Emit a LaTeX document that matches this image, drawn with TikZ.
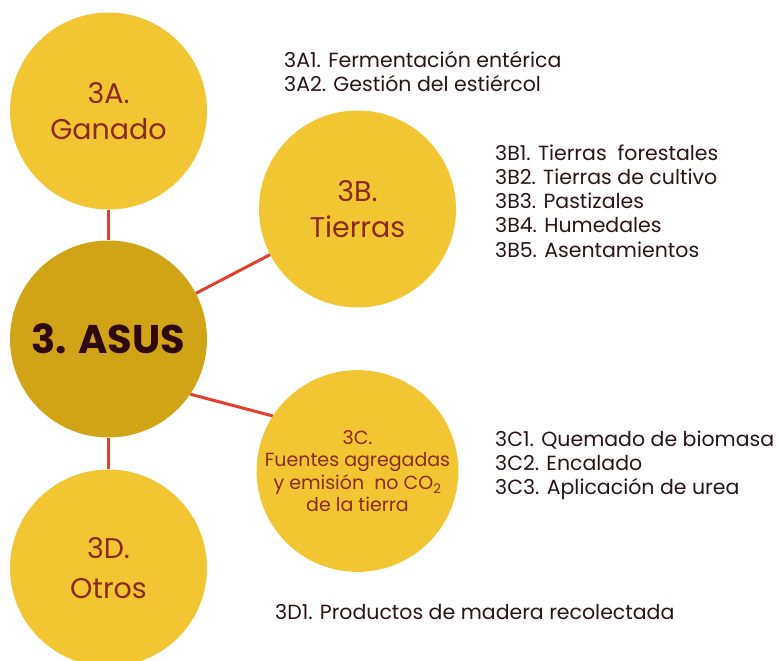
\documentclass[tikz,border=0pt]{standalone}
\usepackage{fontspec}
\setmainfont{Poppins}
\usepackage{xcolor}
\definecolor{circlegold}{HTML}{F2C633}
\definecolor{hubgold}{HTML}{D1A316}
\definecolor{labelred}{HTML}{8C2A1A}
\definecolor{hubtext}{HTML}{2E080A}
\definecolor{listtext}{HTML}{2B1414}
\definecolor{linkred}{HTML}{E0402E}

\begin{document}
\begin{tikzpicture}[x=1pt,y=-1pt]
\tikzset{topic/.style={circle,fill=circlegold,minimum size=197pt,inner sep=0pt,text=labelred,align=center,font=\fontsize{28.5}{36}\selectfont}}
\tikzset{hub/.style={topic,fill=hubgold,text=hubtext,font=\fontsize{40}{44}\selectfont\bfseries}}
\tikzset{items/.style={anchor=west,align=left,inner sep=0pt,text=listtext,font=\fontsize{20.5}{24.2}\selectfont}}
\tikzset{link/.style={draw=linkred,line width=3pt}}

\useasboundingbox (0,0) rectangle (779,661);

\node[hub] (asus) at (108.5,339) {3. ASUS};
\node[topic] (ganado) at (108.5,111) {3A.\\Ganado};
\node[topic] (tierras) at (357.5,209) {3B.\\Tierras};
\node[topic,font=\fontsize{19}{22.5}\selectfont] (fuentes) at (357.5,471) {3C.\\Fuentes agregadas\\y emisión~ no CO\textsubscript{2}\\de la tierra};
\node[topic,font=\fontsize{28.5}{40}\selectfont] (otros) at (108.5,568) {3D.\\Otros};

\draw[link] (ganado) -- (asus);
\draw[link] (asus) -- (tierras);
\draw[link] (asus.-34) -- (fuentes.147);
\draw[link] (asus) -- (otros);

\node[items] (ganadolist) at (284,71.5) {3A1. Fermentación entérica\\3A2. Gestión del estiércol};
\node[items] (tierraslist) at (495,201) {3B1. Tierras~ forestales\\3B2. Tierras de cultivo\\3B3. Pastizales\\3B4. Humedales\\3B5. Asentamientos};
\node[items] (fuenteslist) at (495,465.5) {3C1. Quemado de biomasa\\3C2. Encalado\\3C3. Aplicación de urea};
\node[items] (otroslist) at (275,612) {3D1. Productos de madera recolectada};

\end{tikzpicture}
\end{document}
